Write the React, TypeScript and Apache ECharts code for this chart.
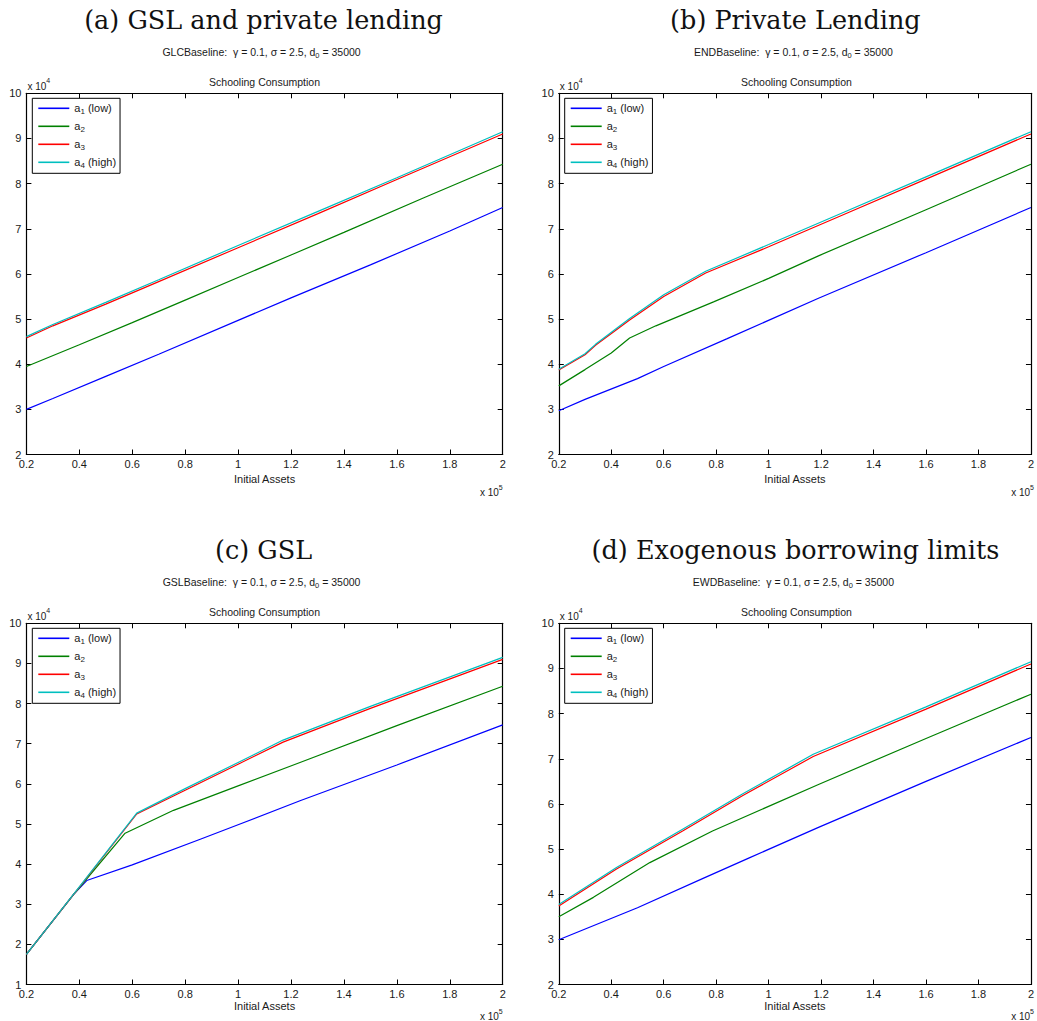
import React, { useEffect, useRef } from "react";
import * as echarts from "echarts";

// Initial assets are in units of 1e5, schooling consumption in units of 1e4.
const seriesNames = ["a1 (low)", "a2", "a3", "a4 (high)"];
const seriesColors = ["#0000ff", "#008000", "#ff0000", "#00bfbf"];

const panelTitles = [
  "(a) GSL and private lending",
  "(b) Private Lending",
  "(c) GSL",
  "(d) Exogenous borrowing limits",
];
const baselineNames = ["GLCBaseline:", "ENDBaseline:", "GSLBaseline:", "EWDBaseline:"];
const yMins = [2, 2, 1, 2];
const yMax = 10;

// (a) GSL and private lending
const glc_a1 = [[0.2, 3.0], [0.3, 3.24], [0.5, 3.73], [0.7, 4.22], [1.0, 4.97], [1.2, 5.47], [1.5, 6.2], [1.8, 6.95], [2.0, 7.47]];
const glc_a2 = [[0.2, 3.95], [0.4, 4.43], [0.6, 4.92], [0.8, 5.42], [1.0, 5.92], [1.2, 6.42], [1.4, 6.92], [1.7, 7.68], [2.0, 8.43]];
const glc_a3 = [[0.2, 4.58], [0.3, 4.85], [0.5, 5.33], [0.7, 5.83], [1.0, 6.58], [1.3, 7.33], [1.6, 8.09], [2.0, 9.1]];
const glc_a4 = [[0.2, 4.61], [0.3, 4.88], [0.5, 5.37], [0.7, 5.87], [1.0, 6.63], [1.3, 7.38], [1.6, 8.13], [2.0, 9.15]];

// (b) Private lending
const end_a1 = [[0.2, 2.97], [0.3, 3.22], [0.5, 3.68], [0.6, 3.95], [0.84, 4.56], [1.19, 5.46], [1.6, 6.47], [2.0, 7.47]];
const end_a2 = [[0.2, 3.52], [0.3, 3.88], [0.4, 4.25], [0.47, 4.58], [0.57, 4.85], [0.79, 5.38], [1.0, 5.9], [1.19, 6.4], [1.6, 7.42], [2.0, 8.43]];
const end_a3 = [[0.2, 3.87], [0.3, 4.21], [0.34, 4.42], [0.47, 4.98], [0.6, 5.5], [0.76, 6.02], [1.0, 6.6], [1.3, 7.35], [1.6, 8.1], [2.0, 9.1]];
const end_a4 = [[0.2, 3.89], [0.3, 4.23], [0.34, 4.44], [0.47, 5.01], [0.6, 5.54], [0.76, 6.06], [1.0, 6.65], [1.3, 7.4], [1.6, 8.15], [2.0, 9.15]];

// (c) GSL
const gsl_a1 = [[0.2, 1.75], [0.383, 3.28], [0.428, 3.59], [0.6, 3.98], [0.857, 4.62], [1.0, 4.98], [1.234, 5.58], [1.6, 6.47], [2.0, 7.47]];
const gsl_a2 = [[0.2, 1.75], [0.383, 3.28], [0.573, 4.77], [0.756, 5.34], [1.0, 5.95], [1.234, 6.53], [1.6, 7.45], [2.0, 8.43]];
const gsl_a3 = [[0.2, 1.75], [0.383, 3.28], [0.617, 5.25], [0.8, 5.84], [1.0, 6.49], [1.17, 7.04], [1.5, 7.88], [2.0, 9.1]];
const gsl_a4 = [[0.2, 1.75], [0.383, 3.29], [0.617, 5.27], [0.8, 5.88], [1.0, 6.53], [1.17, 7.09], [1.5, 7.93], [2.0, 9.15]];

// (d) Exogenous borrowing limits
const ewd_a1 = [[0.2, 2.99], [0.5, 3.7], [0.75, 4.35], [0.924, 4.8], [1.19, 5.48], [1.6, 6.5], [2.0, 7.47]];
const ewd_a2 = [[0.2, 3.5], [0.332, 3.93], [0.547, 4.7], [0.786, 5.4], [1.19, 6.43], [1.6, 7.45], [2.0, 8.43]];
const ewd_a3 = [[0.2, 3.74], [0.42, 4.56], [0.672, 5.4], [0.9, 6.18], [1.17, 7.05], [1.6, 8.1], [2.0, 9.1]];
const ewd_a4 = [[0.2, 3.77], [0.42, 4.59], [0.672, 5.44], [0.9, 6.22], [1.17, 7.1], [1.6, 8.15], [2.0, 9.15]];

const panelSeries = [
  [glc_a1, glc_a2, glc_a3, glc_a4],
  [end_a1, end_a2, end_a3, end_a4],
  [gsl_a1, gsl_a2, gsl_a3, gsl_a4],
  [ewd_a1, ewd_a2, ewd_a3, ewd_a4],
];

const grids = [
  { left: 26.4, top: 93.3, width: 476.3, height: 361.2 },
  { left: 558.8, top: 93.3, width: 475.2, height: 361.2 },
  { left: 26.4, top: 623.3, width: 476.3, height: 361.2 },
  { left: 558.8, top: 623.3, width: 475.2, height: 361.2 },
];
// gap between the plot's lower edge and the axis name / multiplier
const nameGaps = [19, 19, 16, 16];
const multiplierOffsets = [36, 36, 30, 30];

const SANS = "Liberation Sans, Arial, Helvetica, sans-serif";
const INK = "#1a1a1a";

const legendRich = {
  t: { fontSize: 11, fontFamily: SANS, color: INK, lineHeight: 15, verticalAlign: "middle" },
  s: { fontSize: 8, fontFamily: SANS, color: INK, lineHeight: 8, verticalAlign: "bottom" },
};

function legendLabel(name: string) {
  const m = name.match(/^a(\d)(.*)$/);
  if (!m) return name;
  return `{t|a}{s|${m[1]}}` + (m[2] ? `{t|${m[2]}}` : "");
}

function buildOption() {
  const xAxis: any[] = [];
  const yAxis: any[] = [];
  const series: any[] = [];
  const legend: any[] = [];
  const graphic: any[] = [];

  grids.forEach((g, i) => {
    const frame = { show: true, lineStyle: { color: "#000", width: 1.2 } };
    const ticks = { show: true, inside: true, length: 5, lineStyle: { color: "#000" } };
    xAxis.push({
      gridIndex: i, type: "value", position: "bottom", min: 0.2, max: 2, interval: 0.2,
      axisLine: frame, axisTick: ticks,
      axisLabel: { fontSize: 11, fontFamily: SANS, color: INK, margin: 4 },
      splitLine: { show: false },
      name: "Initial Assets", nameLocation: "middle", nameGap: nameGaps[i],
      nameTextStyle: { fontSize: 11, fontFamily: SANS, color: INK },
    });
    xAxis.push({
      gridIndex: i, type: "value", position: "top", min: 0.2, max: 2, interval: 0.2,
      axisLine: frame, axisTick: ticks,
      axisLabel: { show: false }, splitLine: { show: false },
    });
    yAxis.push({
      gridIndex: i, type: "value", position: "left", min: yMins[i], max: yMax, interval: 1,
      axisLine: frame, axisTick: ticks,
      axisLabel: { fontSize: 11, fontFamily: SANS, color: INK, margin: 5 },
      splitLine: { show: false },
    });
    yAxis.push({
      gridIndex: i, type: "value", position: "right", min: yMins[i], max: yMax, interval: 1,
      axisLine: frame, axisTick: ticks,
      axisLabel: { show: false }, splitLine: { show: false },
    });

    panelSeries[i].forEach((data, k) => {
      series.push({
        type: "line", name: seriesNames[k], data,
        xAxisIndex: 2 * i, yAxisIndex: 2 * i,
        symbol: "none", showSymbol: false, animation: false,
        lineStyle: { color: seriesColors[k], width: 1.2 },
        itemStyle: { color: seriesColors[k] },
        z: 2 + k,
      });
    });

    legend.push({
      data: seriesNames, orient: "vertical",
      left: g.left + 5.9, top: g.top + 5,
      icon: "rect", itemWidth: 31, itemHeight: 1.6, itemGap: 5,
      padding: [4.5, 4, 3.5, 6],
      backgroundColor: "#fff", borderColor: "#000", borderWidth: 1,
      formatter: legendLabel,
      textStyle: { fontSize: 11, fontFamily: SANS, color: INK, rich: legendRich },
      selectedMode: false,
    });

    const cx = g.left + g.width / 2;
    const mult = (p: string, x: number, y: number, align: string) => ({
      type: "text", x, y,
      style: {
        text: `{t|x 10}{p|${p}}`, textAlign: align, textVerticalAlign: "middle",
        rich: {
          t: { fontSize: 10, fontFamily: SANS, fill: INK, lineHeight: 14, verticalAlign: "bottom" },
          p: { fontSize: 7, fontFamily: SANS, fill: INK, lineHeight: 8, verticalAlign: "top" },
        },
      },
    });
    graphic.push(
      {
        type: "text", x: cx - 1, y: g.top - 73,
        style: { text: panelTitles[i], font: "25.5px 'DejaVu Serif', serif", fill: "#111", textAlign: "center", textVerticalAlign: "middle" },
      },
      {
        type: "text", x: cx - 3, y: g.top - 41,
        style: {
          text: `{t|${baselineNames[i]}  \u03b3 = 0.1, \u03c3 = 2.5, d}{s|0}{t| = 35000}`,
          textAlign: "center", textVerticalAlign: "middle",
          rich: {
            t: { fontSize: 10.5, fontFamily: SANS, fill: INK, lineHeight: 14, verticalAlign: "middle" },
            s: { fontSize: 7.5, fontFamily: SANS, fill: INK, lineHeight: 7, verticalAlign: "bottom" },
          },
        },
      },
      {
        type: "text", x: cx, y: g.top - 11.5,
        style: { text: "Schooling Consumption", font: `10.5px ${SANS}`, fill: INK, textAlign: "center", textVerticalAlign: "middle" },
      },
      mult("4", g.left + 1, g.top - 9, "left"),
      mult("5", g.left + g.width, g.top + g.height + multiplierOffsets[i], "right")
    );
  });

  return {
    animation: false,
    backgroundColor: "#fff",
    grid: grids.map((g) => ({ ...g, containLabel: false })),
    xAxis, yAxis, series, legend, graphic,
  };
}

export default function App() {
  const ref = useRef<HTMLDivElement>(null);
  useEffect(() => {
    document.body.style.margin = "0";
    if (!ref.current) return;
    const chart = echarts.init(ref.current, undefined, { renderer: "svg" });
    chart.setOption(buildOption() as any);
    return () => chart.dispose();
  }, []);
  return <div ref={ref} style={{ width: 1037, height: 1021, position: "absolute", left: 0, top: 0 }} />;
}
